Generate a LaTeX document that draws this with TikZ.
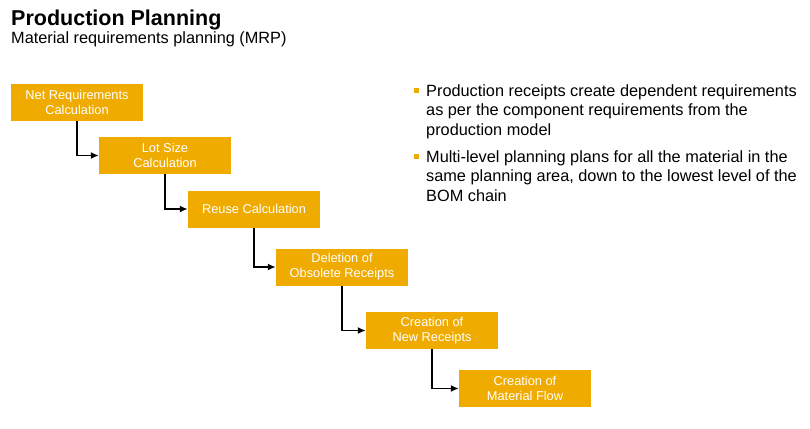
\documentclass[tikz,border=0pt]{standalone}
\usepackage{fontspec}
\setmainfont{Liberation Sans}
\usetikzlibrary{arrows.meta}
\definecolor{sapgold}{HTML}{F0AB00}
\tikzset{
  stepbox/.style={fill=sapgold, text=white, minimum width=132pt, minimum height=37pt,
    inner sep=0pt, align=center, font=\fontsize{12.8}{15}\selectfont},
  flowline/.style={-{Latex[length=8pt,width=7pt]}, line width=1.6pt},
  bulletmark/.style={fill=sapgold, minimum size=5pt, inner sep=0pt},
  bullettext/.style={anchor=base west, inner sep=0pt, font=\fontsize{16.3}{19.5}\selectfont}
}
\begin{document}
\begin{tikzpicture}[x=1pt, y=-1pt]
  \useasboundingbox (0,0) rectangle (810,428);
  % heading
  \node[anchor=base west, inner sep=0pt, font=\fontsize{21.5}{24}\selectfont\bfseries] (title) at (11,26) {Production Planning};
  \node[anchor=base west, inner sep=0pt, font=\fontsize{16.3}{19}\selectfont] (subtitle) at (11,43.5) {Material requirements planning (MRP)};
  % steps
  \node[stepbox] (net) at (77,102.5) {Net Requirements\\Calculation};
  \node[stepbox] (lot) at (165,155.5) {Lot Size\\Calculation};
  \node[stepbox] (reuse) at (254,209) {Reuse Calculation};
  \node[stepbox] (del) at (342,267) {Deletion of\\Obsolete Receipts};
  \node[stepbox] (newrec) at (432,330.5) {Creation of\\New Receipts};
  \node[stepbox] (flow) at (525,388.5) {Creation of\\Material Flow};
  \draw[flowline] (net.south) |- (lot.west);
  \draw[flowline] (lot.south) |- (reuse.west);
  \draw[flowline] (reuse.south) |- (del.west);
  \draw[flowline] (del.south) |- (newrec.west);
  \draw[flowline] (newrec.south) |- (flow.west);
  % bullets
  \node[bulletmark] (b1) at (416,90.5) {};
  \node[bullettext] (t1) at (426,96) {Production receipts create dependent requirements};
  \node[bullettext] (t1b) at (426,115.5) {as per the component requirements from the};
  \node[bullettext] (t1c) at (426,135) {production model};
  \node[bulletmark] (b2) at (416,156.5) {};
  \node[bullettext] (t2) at (426,162) {Multi-level planning plans for all the material in the};
  \node[bullettext] (t2b) at (426,181.5) {same planning area, down to the lowest level of the};
  \node[bullettext] (t2c) at (426,201) {BOM chain};
\end{tikzpicture}
\end{document}
